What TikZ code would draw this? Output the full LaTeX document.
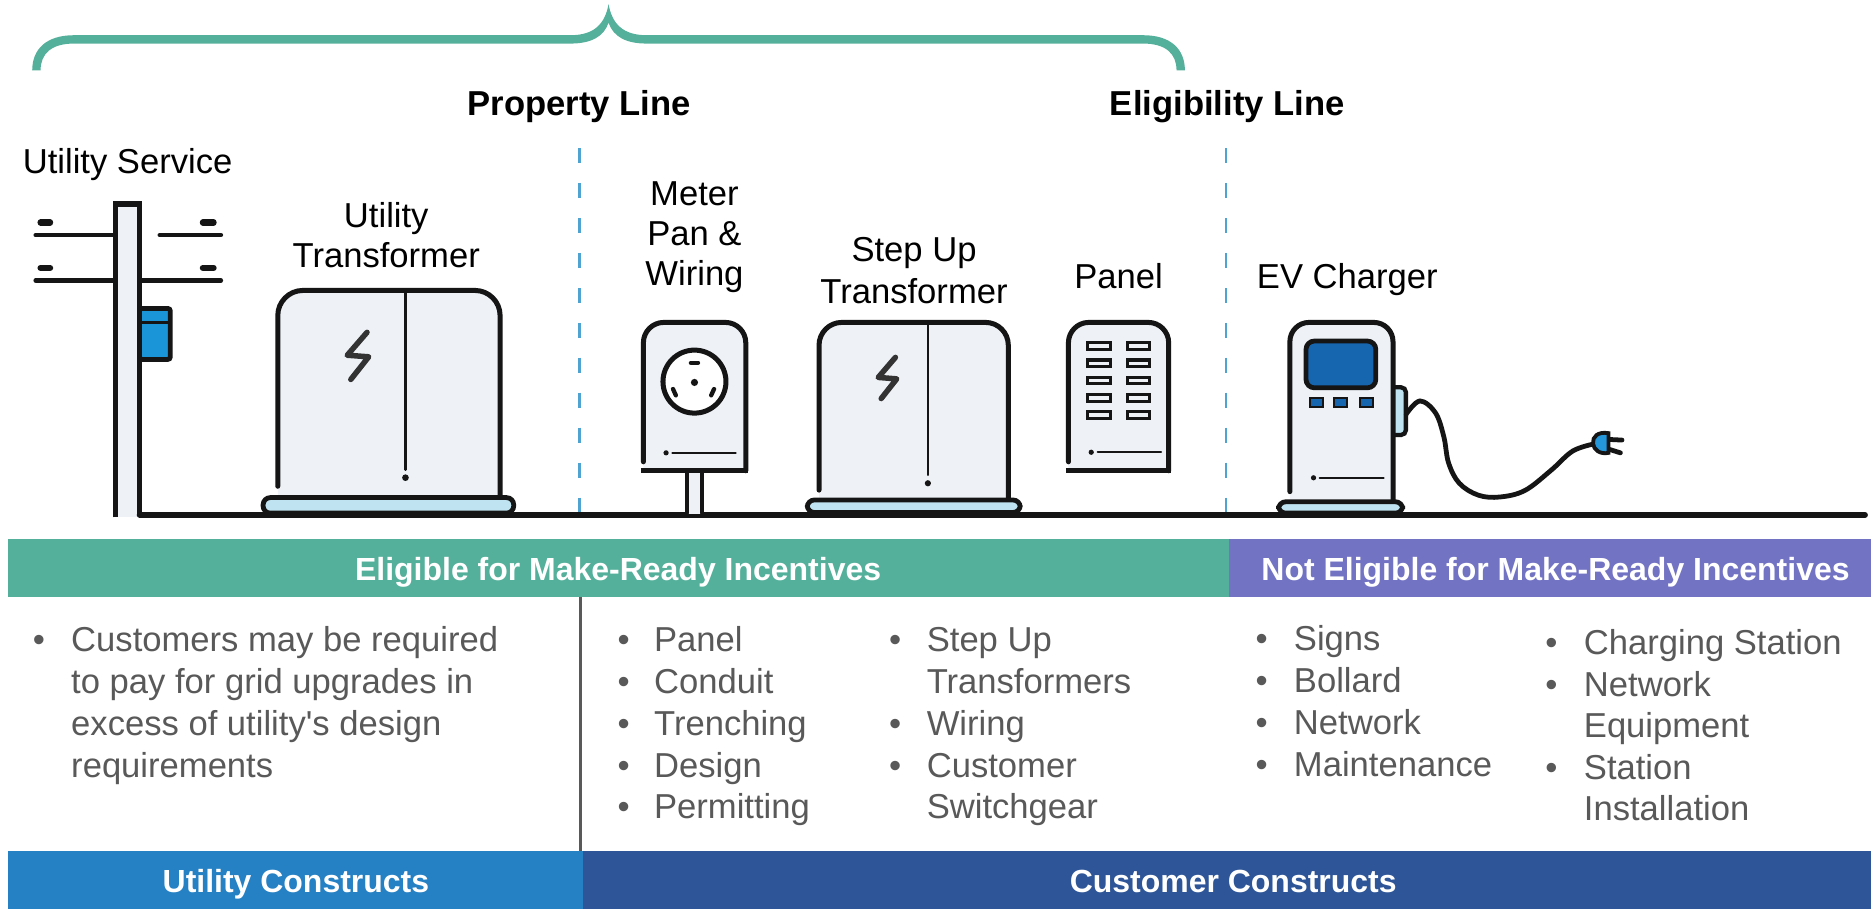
\documentclass[tikz,border=0pt]{standalone}
\usepackage{fontspec}
\setmainfont{Liberation Sans}
\usetikzlibrary{calc}

\definecolor{mrteal}{HTML}{55B09B}
\definecolor{mrpurple}{HTML}{7373C4}
\definecolor{utilblue}{HTML}{2581C4}
\definecolor{custblue}{HTML}{2E5597}
\definecolor{dashblue}{HTML}{4FA3D1}
\definecolor{iconfill}{HTML}{EEF2F7}
\definecolor{basefill}{HTML}{BFE3F0}
\definecolor{screenblue}{HTML}{1565AF}
\definecolor{plugblue}{HTML}{2496DA}
\definecolor{meterblue}{HTML}{1A95D8}
\definecolor{itemgray}{HTML}{595959}
\definecolor{inkblack}{HTML}{151515}
\definecolor{boltgray}{HTML}{333333}

% cabinet outline: left, right, top, bottom (right side), corner radius, bottom (left side)
\newcommand\cabshape[6]{(#1,#6) -- (#1,{#3+#5}) .. controls (#1,{#3+0.45*#5}) and ({#1+0.45*#5},#3) .. ({#1+#5},#3) -- ({#2-#5},#3) .. controls ({#2-0.45*#5},#3) and (#2,{#3+0.45*#5}) .. (#2,{#3+#5}) -- (#2,#4)}

\begin{document}
\begin{tikzpicture}[x=0.5pt,y=-0.5pt,
  icon/.style={draw=inkblack, line width=2.1pt, line join=round, line cap=round},
  thinln/.style={draw=inkblack, line width=1pt, line cap=round},
  basebox/.style={draw=inkblack, fill=basefill, line width=2pt, rounded corners=3pt},
  bolt/.style={draw=boltgray, line width=2.3pt, line cap=round, line join=round},
  lbl/.style={font=\fontsize{14.5pt}{17pt}\selectfont, text=black, inner sep=0pt, anchor=base, yshift=-0.7pt},
  ttl/.style={font=\bfseries\fontsize{14.5pt}{17pt}\selectfont, text=black, inner sep=0pt, anchor=base, yshift=-0.8pt},
  bandtxt/.style={font=\bfseries\fontsize{13.4pt}{16pt}\selectfont, text=white, inner sep=0pt, anchor=base, yshift=-0.5pt},
  itm/.style={font=\fontsize{14.5pt}{17pt}\selectfont, text=itemgray, inner sep=0pt, anchor=base west, yshift=-0.8pt},
  bul/.style={font=\fontsize{14.5pt}{17pt}\selectfont, text=itemgray, inner sep=0pt, anchor=base, yshift=-0.8pt},
  bound/.style={draw=dashblue, line width=0.9pt, dash pattern=on 6.5pt off 8.15pt},
  breaker/.style={draw=inkblack, line width=1.35pt},
]
\useasboundingbox (0,0) rectangle (1568,762);
\fill[white] (0,0) rectangle (1568,762);

% ---------- brace over the eligible range ----------
\fill[mrteal] (27,59) .. controls (27,41) and (39,29.5) .. (62,29.5) -- (478,29.5)
  .. controls (498,29.5) and (507,20) .. (510,3.5)
  .. controls (513,20) and (522,29.5) .. (542,29.5) -- (958,29.5)
  .. controls (981,29.5) and (993,41) .. (993,59) -- (986,59)
  .. controls (986,45) and (977,36.5) .. (958,36.5) -- (542,36.5)
  .. controls (525,36.5) and (514,31) .. (510,19)
  .. controls (506,31) and (495,36.5) .. (478,36.5) -- (62,36.5)
  .. controls (43,36.5) and (34,45) .. (34,59) -- cycle;

% ---------- headings ----------
\node[ttl] (propline) at (485.5,95) {Property Line};
\node[ttl] (eligline) at (1028.5,95) {Eligibility Line};

% ---------- boundary lines ----------
\coordinate (pltop) at (485.7,124);
\coordinate (plbot) at (485.7,432);
\coordinate (eltop) at (1027.4,124);
\coordinate (elbot) at (1027.4,432);
\draw[bound] (pltop) -- (plbot);
\draw[bound] (eltop) -- (elbot);

% ---------- labels ----------
\node[lbl, anchor=base west] (svc) at (18.7,143.7) {Utility Service};
\node[lbl] (ut1) at (323.7,189.3) {Utility};
\node[lbl] (ut2) at (323.7,222.6) {Transformer};
\node[lbl] (mt1) at (582,170.4) {Meter};
\node[lbl] (mt2) at (582,204.5) {Pan \&};
\node[lbl] (mt3) at (582,238) {Wiring};
\node[lbl] (su1) at (766,218) {Step Up};
\node[lbl] (su2) at (766,252.9) {Transformer};
\node[lbl] (pnl) at (937.4,240.3) {Panel};
\node[lbl, anchor=base west] (evc) at (1053,240.3) {EV Charger};

% ---------- utility pole ----------
\fill[iconfill] (96.8,171) rectangle (117,433);
\draw[icon, line width=2.4pt, line cap=butt, line join=miter] (96.8,433.5) -- (96.8,171) -- (117,171) -- (117,432);
\draw[icon, line width=2pt] (30,197) -- (96.8,197);
\draw[icon, line width=2pt] (134,197) -- (185,197);
\draw[icon, line width=2pt] (30,235) -- (96.8,235);
\draw[icon, line width=2pt] (117,235) -- (185,235);
\draw[icon, line width=2.6pt] (34,186.4) -- (42,186.4);
\draw[icon, line width=2.6pt] (170,186.4) -- (179,186.4);
\draw[icon, line width=2.6pt] (34,224.5) -- (42,224.5);
\draw[icon, line width=2.6pt] (170,224.5) -- (179,224.5);
\draw[draw=inkblack, fill=meterblue, line width=2pt, rounded corners=1pt] (117,258.5) rectangle (142.7,301.2);
\draw[draw=inkblack, line width=1.3pt] (117,270.5) -- (142.7,270.5);

% ---------- ground ----------
\draw[draw=inkblack, line width=2.4pt, line cap=round] (117,431.5) -- (1563,431.5);

% ---------- utility transformer ----------
\fill[iconfill] \cabshape{232.8}{419.1}{243.4}{417}{21}{417} -- cycle;
\draw[icon] \cabshape{232.8}{419.1}{243.4}{417}{21}{407.5};
\draw[thinln] (339.8,245) -- (339.8,393.7);
\fill[inkblack] (339.8,400.3) circle (1.4pt);
\draw[bolt] (307.6,278.5) -- (291,297.7) -- (309,299) -- (294,318);
\draw[basebox] (220.5,417) rectangle (430.5,430);

% ---------- meter pan ----------
\fill[iconfill] (575.5,394.5) rectangle (588.5,431);
\draw[icon, line width=1.8pt] (575.5,394.5) -- (575.5,430);
\draw[icon, line width=1.8pt] (588.5,394.5) -- (588.5,430);
\fill[iconfill] \cabshape{539.2}{625}{270.2}{394.5}{17}{394.5} -- cycle;
\draw[icon] \cabshape{539.2}{625}{270.2}{394.5}{17}{387};
\draw[icon, line cap=butt] (537,394.5) -- (627.2,394.5);
\draw[icon, fill=white] (582,319.8) circle (13.2pt);
\draw[icon, line width=1.8pt] (579,304) -- (585,304);
\fill[inkblack] (582,320.5) circle (1.5pt);
\draw[icon, line width=1.8pt] (564,326) -- (566.4,331.3);
\draw[icon, line width=1.8pt] (598.4,326) -- (596,331.3);
\fill[inkblack] (558.2,379.5) circle (1.1pt);
\draw[thinln] (563.5,379.5) -- (616.5,379.5);

% ---------- step up transformer ----------
\fill[iconfill] \cabshape{686.4}{845}{270.2}{419}{19}{419} -- cycle;
\draw[icon] \cabshape{686.4}{845}{270.2}{419}{19}{410.7};
\draw[thinln] (777.6,272) -- (777.6,398);
\fill[inkblack] (777.6,405) circle (1.3pt);
\draw[bolt] (750.4,299.5) -- (736,316.3) -- (751.5,317.5) -- (738.5,334);
\draw[basebox] (676.5,419) rectangle (855,429.5);

% ---------- panel ----------
\fill[iconfill] \cabshape{895.4}{979.4}{270.2}{394.5}{17}{394.5} -- cycle;
\draw[icon] \cabshape{895.4}{979.4}{270.2}{394.5}{17}{387};
\draw[icon, line cap=butt] (893.2,394.5) -- (981.6,394.5);
\foreach \r in {0,...,4}{
  \draw[breaker] (911.6,{287.2+14.45*\r}) rectangle (930.5,{292.8+14.45*\r});
  \draw[breaker] (945.2,{287.2+14.45*\r}) rectangle (963.2,{292.8+14.45*\r});
}
\fill[inkblack] (914.5,379) circle (1.1pt);
\draw[thinln] (920,379) -- (973,379);

% ---------- EV charger ----------
\draw[draw=inkblack, fill=basefill, line width=1.8pt, rounded corners=2pt] (1167.4,324.6) -- (1178.2,324.6) -- (1178.2,364.5) -- (1167.4,364.5);
\fill[iconfill] \cabshape{1081}{1167.4}{270.2}{420.5}{16}{420.5} -- cycle;
\draw[icon] \cabshape{1081}{1167.4}{270.2}{420.5}{16}{412};
\draw[draw=inkblack, fill=screenblue, line width=2pt, rounded corners=3.5pt] (1094.5,285.8) rectangle (1153,325);
\foreach \bx in {1097.5,1118.2,1139.4}{
  \draw[draw=inkblack, fill=screenblue, line width=0.8pt] (\bx,333.5) rectangle ({\bx+11},340.8);
}
\fill[inkblack] (1100.8,400.4) circle (1.1pt);
\draw[thinln] (1106,400.4) -- (1159.5,400.4);
\draw[basebox] (1071.5,420.5) rectangle (1175.5,430);
\draw[draw=inkblack, line width=2pt, line cap=round] plot[smooth, tension=0.6] coordinates {(1178.5,347) (1190,336) (1203,346) (1210,366) (1214,388) (1223,405) (1239,415) (1257,416.5) (1278,411) (1300,394) (1318,378) (1336,372)};
\draw[draw=inkblack, fill=plugblue, line width=1.6pt] (1348,363) .. controls (1339,361.5) and (1334.5,366) .. (1335,371.5) .. controls (1335.5,377) and (1341,381) .. (1348,379.5) -- cycle;
\draw[draw=inkblack, line width=2pt, line cap=round] (1349,368.3) -- (1359.3,368.8);
\draw[draw=inkblack, line width=2pt, line cap=round] (1349,376.7) -- (1358,379.5);

% ---------- incentive bands ----------
\fill[mrteal] (6.5,451.3) rectangle (1029.6,500);
\fill[mrpurple] (1029.6,451.3) rectangle (1568,500);
\node[bandtxt] (elig) at (518,485.6) {Eligible for Make-Ready Incentives};
\node[bandtxt] (notelig) at (1303.6,485.6) {Not Eligible for Make-Ready Incentives};

% ---------- construct bands ----------
\fill[utilblue] (6.5,713.3) rectangle (488.4,762);
\fill[custblue] (488.4,713.3) rectangle (1568,762);
\node[bandtxt] (utilc) at (248,746.6) {Utility Constructs};
\node[bandtxt] (custc) at (1033.5,746.6) {Customer Constructs};
\coordinate (septop) at (486.4,500);
\coordinate (sepbot) at (486.4,713.3);
\draw[draw=itemgray, line width=1.5pt] (septop) -- (sepbot);

% ---------- item lists ----------
% utility column
\node[bul] (ba1) at (32.7,544.3) {•};
\node[itm] (ta1) at (59.3,544.3) {Customers may be required};
\node[itm] (ta2) at (59.3,579.4) {to pay for grid upgrades in};
\node[itm] (ta3) at (59.3,614.5) {excess of utility\textquotesingle s design};
\node[itm] (ta4) at (59.3,649.6) {requirements};
% customer eligible, first column
\node[bul] (bb1) at (522.6,544.3) {•};
\node[bul] (bb2) at (522.6,579.4) {•};
\node[bul] (bb3) at (522.6,614.5) {•};
\node[bul] (bb4) at (522.6,649.6) {•};
\node[bul] (bb5) at (522.6,684.7) {•};
\node[itm] (tb1) at (547.8,544.3) {Panel};
\node[itm] (tb2) at (547.8,579.4) {Conduit};
\node[itm] (tb3) at (547.8,614.5) {Trenching};
\node[itm] (tb4) at (547.8,649.6) {Design};
\node[itm] (tb5) at (547.8,684.7) {Permitting};
% customer eligible, second column
\node[bul] (bc1) at (750.3,544.3) {•};
\node[bul] (bc3) at (750.3,614.5) {•};
\node[bul] (bc4) at (750.3,649.6) {•};
\node[itm] (tc1) at (776.3,544.3) {Step Up};
\node[itm] (tc2) at (776.3,579.4) {Transformers};
\node[itm] (tc3) at (776.3,614.5) {Wiring};
\node[itm] (tc4) at (776.3,649.6) {Customer};
\node[itm] (tc5) at (776.3,684.7) {Switchgear};
% not eligible, first column
\node[bul] (bd1) at (1057.3,543.5) {•};
\node[bul] (bd2) at (1057.3,578.6) {•};
\node[bul] (bd3) at (1057.3,613.7) {•};
\node[bul] (bd4) at (1057.3,648.8) {•};
\node[itm] (td1) at (1084,543.5) {Signs};
\node[itm] (td2) at (1084,578.6) {Bollard};
\node[itm] (td3) at (1084,613.7) {Network};
\node[itm] (td4) at (1084,648.8) {Maintenance};
% not eligible, second column
\node[bul] (be1) at (1300.2,547) {•};
\node[bul] (be2) at (1300.2,581.8) {•};
\node[bul] (be4) at (1300.2,651.3) {•};
\node[itm] (te1) at (1327,547) {Charging Station};
\node[itm] (te2) at (1327,581.8) {Network};
\node[itm] (te3) at (1327,616.5) {Equipment};
\node[itm] (te4) at (1327,651.3) {Station};
\node[itm] (te5) at (1327,686) {Installation};
\end{tikzpicture}
\end{document}
